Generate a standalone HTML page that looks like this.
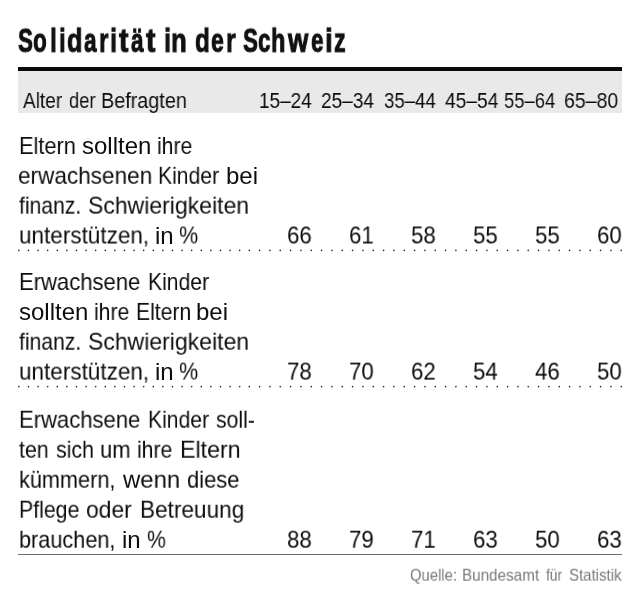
<!DOCTYPE html>
<html lang="de"><head><meta charset="utf-8"><title>Solidarität in der Schweiz</title>
<style>
html,body{margin:0;padding:0;background:#fff;}
body{width:640px;height:600px;position:relative;overflow:hidden;font-family:"Liberation Sans",sans-serif;}
.t{position:absolute;white-space:nowrap;transform-origin:0 0;display:block;will-change:transform;}
.rule{position:absolute;left:18px;width:604px;top:67.4px;height:3.7px;background:#0a0a0a;}
.band{position:absolute;left:18px;width:604px;top:71px;height:42.4px;background:#e9e9e9;}
.dots{position:absolute;left:0;}
.ln{position:absolute;left:0;top:0;width:0;height:0;margin:0;font-size:0;line-height:0;}
.solid{position:absolute;left:18px;width:604px;top:554px;height:1px;background:#6e6e6e;}
</style></head><body>
<div class="rule"></div><div class="band"></div>
<svg class="dots" style="top:248px" width="640" height="5" viewBox="0 0 640 5"><g fill="#262626"><circle cx="18.85" cy="2.40" r="0.8"/><circle cx="28.45" cy="2.40" r="0.8"/><circle cx="38.05" cy="2.40" r="0.8"/><circle cx="47.65" cy="2.40" r="0.8"/><circle cx="57.25" cy="2.40" r="0.8"/><circle cx="66.85" cy="2.40" r="0.8"/><circle cx="76.45" cy="2.40" r="0.8"/><circle cx="86.05" cy="2.40" r="0.8"/><circle cx="95.65" cy="2.40" r="0.8"/><circle cx="105.25" cy="2.40" r="0.8"/><circle cx="114.85" cy="2.40" r="0.8"/><circle cx="124.45" cy="2.40" r="0.8"/><circle cx="134.05" cy="2.40" r="0.8"/><circle cx="143.65" cy="2.40" r="0.8"/><circle cx="153.25" cy="2.40" r="0.8"/><circle cx="162.85" cy="2.40" r="0.8"/><circle cx="172.45" cy="2.40" r="0.8"/><circle cx="182.05" cy="2.40" r="0.8"/><circle cx="191.65" cy="2.40" r="0.8"/><circle cx="201.25" cy="2.40" r="0.8"/><circle cx="210.85" cy="2.40" r="0.8"/><circle cx="220.45" cy="2.40" r="0.8"/><circle cx="230.05" cy="2.40" r="0.8"/><circle cx="239.65" cy="2.40" r="0.8"/><circle cx="249.25" cy="2.40" r="0.8"/><circle cx="259.58" cy="2.40" r="0.8"/><circle cx="269.92" cy="2.40" r="0.8"/><circle cx="280.25" cy="2.40" r="0.8"/><circle cx="290.58" cy="2.40" r="0.8"/><circle cx="300.91" cy="2.40" r="0.8"/><circle cx="311.25" cy="2.40" r="0.8"/><circle cx="321.58" cy="2.40" r="0.8"/><circle cx="331.91" cy="2.40" r="0.8"/><circle cx="342.25" cy="2.40" r="0.8"/><circle cx="352.58" cy="2.40" r="0.8"/><circle cx="362.91" cy="2.40" r="0.8"/><circle cx="373.25" cy="2.40" r="0.8"/><circle cx="383.58" cy="2.40" r="0.8"/><circle cx="393.91" cy="2.40" r="0.8"/><circle cx="404.25" cy="2.40" r="0.8"/><circle cx="414.58" cy="2.40" r="0.8"/><circle cx="424.91" cy="2.40" r="0.8"/><circle cx="435.24" cy="2.40" r="0.8"/><circle cx="445.58" cy="2.40" r="0.8"/><circle cx="455.91" cy="2.40" r="0.8"/><circle cx="466.24" cy="2.40" r="0.8"/><circle cx="476.58" cy="2.40" r="0.8"/><circle cx="486.91" cy="2.40" r="0.8"/><circle cx="497.24" cy="2.40" r="0.8"/><circle cx="507.57" cy="2.40" r="0.8"/><circle cx="517.91" cy="2.40" r="0.8"/><circle cx="528.24" cy="2.40" r="0.8"/><circle cx="538.57" cy="2.40" r="0.8"/><circle cx="548.91" cy="2.40" r="0.8"/><circle cx="559.24" cy="2.40" r="0.8"/><circle cx="569.57" cy="2.40" r="0.8"/><circle cx="579.91" cy="2.40" r="0.8"/><circle cx="590.24" cy="2.40" r="0.8"/><circle cx="600.57" cy="2.40" r="0.8"/><circle cx="610.90" cy="2.40" r="0.8"/><circle cx="621.24" cy="2.40" r="0.8"/></g></svg>
<svg class="dots" style="top:384px" width="640" height="5" viewBox="0 0 640 5"><g fill="#262626"><circle cx="18.85" cy="2.65" r="0.8"/><circle cx="28.45" cy="2.65" r="0.8"/><circle cx="38.05" cy="2.65" r="0.8"/><circle cx="47.65" cy="2.65" r="0.8"/><circle cx="57.25" cy="2.65" r="0.8"/><circle cx="66.85" cy="2.65" r="0.8"/><circle cx="76.45" cy="2.65" r="0.8"/><circle cx="86.05" cy="2.65" r="0.8"/><circle cx="95.65" cy="2.65" r="0.8"/><circle cx="105.25" cy="2.65" r="0.8"/><circle cx="114.85" cy="2.65" r="0.8"/><circle cx="124.45" cy="2.65" r="0.8"/><circle cx="134.05" cy="2.65" r="0.8"/><circle cx="143.65" cy="2.65" r="0.8"/><circle cx="153.25" cy="2.65" r="0.8"/><circle cx="162.85" cy="2.65" r="0.8"/><circle cx="172.45" cy="2.65" r="0.8"/><circle cx="182.05" cy="2.65" r="0.8"/><circle cx="191.65" cy="2.65" r="0.8"/><circle cx="201.25" cy="2.65" r="0.8"/><circle cx="210.85" cy="2.65" r="0.8"/><circle cx="220.45" cy="2.65" r="0.8"/><circle cx="230.05" cy="2.65" r="0.8"/><circle cx="239.65" cy="2.65" r="0.8"/><circle cx="249.25" cy="2.65" r="0.8"/><circle cx="259.58" cy="2.65" r="0.8"/><circle cx="269.92" cy="2.65" r="0.8"/><circle cx="280.25" cy="2.65" r="0.8"/><circle cx="290.58" cy="2.65" r="0.8"/><circle cx="300.91" cy="2.65" r="0.8"/><circle cx="311.25" cy="2.65" r="0.8"/><circle cx="321.58" cy="2.65" r="0.8"/><circle cx="331.91" cy="2.65" r="0.8"/><circle cx="342.25" cy="2.65" r="0.8"/><circle cx="352.58" cy="2.65" r="0.8"/><circle cx="362.91" cy="2.65" r="0.8"/><circle cx="373.25" cy="2.65" r="0.8"/><circle cx="383.58" cy="2.65" r="0.8"/><circle cx="393.91" cy="2.65" r="0.8"/><circle cx="404.25" cy="2.65" r="0.8"/><circle cx="414.58" cy="2.65" r="0.8"/><circle cx="424.91" cy="2.65" r="0.8"/><circle cx="435.24" cy="2.65" r="0.8"/><circle cx="445.58" cy="2.65" r="0.8"/><circle cx="455.91" cy="2.65" r="0.8"/><circle cx="466.24" cy="2.65" r="0.8"/><circle cx="476.58" cy="2.65" r="0.8"/><circle cx="486.91" cy="2.65" r="0.8"/><circle cx="497.24" cy="2.65" r="0.8"/><circle cx="507.57" cy="2.65" r="0.8"/><circle cx="517.91" cy="2.65" r="0.8"/><circle cx="528.24" cy="2.65" r="0.8"/><circle cx="538.57" cy="2.65" r="0.8"/><circle cx="548.91" cy="2.65" r="0.8"/><circle cx="559.24" cy="2.65" r="0.8"/><circle cx="569.57" cy="2.65" r="0.8"/><circle cx="579.91" cy="2.65" r="0.8"/><circle cx="590.24" cy="2.65" r="0.8"/><circle cx="600.57" cy="2.65" r="0.8"/><circle cx="610.90" cy="2.65" r="0.8"/><circle cx="621.24" cy="2.65" r="0.8"/></g></svg>
<div class="solid"></div>

<div class="ln"><span class="t" style="left:18.18px;top:23px;font-size:33px;line-height:33px;font-weight:700;color:#111;-webkit-text-stroke:1px #111;transform:translateY(0.8px) scaleX(0.6800)">S</span><span class="t" style="left:33.20px;top:23px;font-size:33px;line-height:33px;font-weight:700;color:#111;-webkit-text-stroke:1px #111;transform:translateY(0.8px) scaleX(0.6800)">o</span><span class="t" style="left:50.38px;top:23px;font-size:33px;line-height:33px;font-weight:700;color:#111;-webkit-text-stroke:1px #111;transform:translateY(0.8px) scaleX(0.7500)">l</span><span class="t" style="left:58.90px;top:23px;font-size:33px;line-height:33px;font-weight:700;color:#111;-webkit-text-stroke:1px #111;transform:translateY(0.8px) scaleX(0.7333)">i</span><span class="t" style="left:66.52px;top:23px;font-size:33px;line-height:33px;font-weight:700;color:#111;-webkit-text-stroke:1px #111;transform:translateY(0.8px) scaleX(0.7611)">d</span><span class="t" style="left:83.87px;top:23px;font-size:33px;line-height:33px;font-weight:700;color:#111;-webkit-text-stroke:1px #111;transform:translateY(0.8px) scaleX(0.6800)">a</span><span class="t" style="left:99.16px;top:23px;font-size:33px;line-height:33px;font-weight:700;color:#111;-webkit-text-stroke:1px #111;transform:translateY(0.8px) scaleX(0.7292)">r</span><span class="t" style="left:110.44px;top:23px;font-size:33px;line-height:33px;font-weight:700;color:#111;-webkit-text-stroke:1px #111;transform:translateY(0.8px) scaleX(0.7750)">i</span><span class="t" style="left:119.18px;top:23px;font-size:33px;line-height:33px;font-weight:700;color:#111;-webkit-text-stroke:1px #111;transform:translateY(0.8px) scaleX(0.8542)">t</span><span class="t" style="left:131.04px;top:23px;font-size:33px;line-height:33px;font-weight:700;color:#111;-webkit-text-stroke:1px #111;transform:translateY(0.8px) scaleX(0.6800)">ä</span><span class="t" style="left:146.43px;top:23px;font-size:33px;line-height:33px;font-weight:700;color:#111;-webkit-text-stroke:1px #111;transform:translateY(0.8px) scaleX(0.8542)">t</span> <span class="t" style="left:163.59px;top:23px;font-size:33px;line-height:33px;font-weight:700;color:#111;-webkit-text-stroke:1px #111;transform:translateY(0.8px) scaleX(0.7750)">i</span><span class="t" style="left:171.33px;top:23px;font-size:33px;line-height:33px;font-weight:700;color:#111;-webkit-text-stroke:1px #111;transform:translateY(0.8px) scaleX(0.7778)">n</span> <span class="t" style="left:194.88px;top:23px;font-size:33px;line-height:33px;font-weight:700;color:#111;-webkit-text-stroke:1px #111;transform:translateY(0.8px) scaleX(0.7361)">d</span><span class="t" style="left:211.15px;top:23px;font-size:33px;line-height:33px;font-weight:700;color:#111;-webkit-text-stroke:1px #111;transform:translateY(0.8px) scaleX(0.6944)">e</span><span class="t" style="left:226.12px;top:23px;font-size:33px;line-height:33px;font-weight:700;color:#111;-webkit-text-stroke:1px #111;transform:translateY(0.8px) scaleX(0.7500)">r</span> <span class="t" style="left:243.19px;top:23px;font-size:33px;line-height:33px;font-weight:700;color:#111;-webkit-text-stroke:1px #111;transform:translateY(0.8px) scaleX(0.6800)">S</span><span class="t" style="left:257.54px;top:23px;font-size:33px;line-height:33px;font-weight:700;color:#111;-webkit-text-stroke:1px #111;transform:translateY(0.8px) scaleX(0.6800)">c</span><span class="t" style="left:271.19px;top:23px;font-size:33px;line-height:33px;font-weight:700;color:#111;-webkit-text-stroke:1px #111;transform:translateY(0.8px) scaleX(0.7083)">h</span><span class="t" style="left:288.08px;top:23px;font-size:33px;line-height:33px;font-weight:700;color:#111;-webkit-text-stroke:1px #111;transform:translateY(0.8px) scaleX(0.7893)">w</span><span class="t" style="left:310.59px;top:23px;font-size:33px;line-height:33px;font-weight:700;color:#111;-webkit-text-stroke:1px #111;transform:translateY(0.8px) scaleX(0.6800)">e</span><span class="t" style="left:324.75px;top:23px;font-size:33px;line-height:33px;font-weight:700;color:#111;-webkit-text-stroke:1px #111;transform:translateY(0.8px) scaleX(0.8333)">i</span><span class="t" style="left:333.65px;top:23px;font-size:33px;line-height:33px;font-weight:700;color:#111;-webkit-text-stroke:1px #111;transform:translateY(0.8px) scaleX(0.7031)">z</span></div>
<div class="ln"><span class="t" style="left:23.40px;top:90px;font-size:22px;line-height:22px;font-weight:400;color:#0d0d0d;transform:scaleX(0.8640)">Alter</span> <span class="t" style="left:69.20px;top:90px;font-size:22px;line-height:22px;font-weight:400;color:#0d0d0d;transform:scaleX(0.8325)">der</span> <span class="t" style="left:101.20px;top:90px;font-size:22px;line-height:22px;font-weight:400;color:#0d0d0d;transform:scaleX(0.8995)">Befragten</span></div>
<div class="ln"><span class="t" style="left:259.44px;top:90px;font-size:22px;line-height:22px;font-weight:400;color:#0d0d0d;transform:scaleX(0.8608)">15–24</span> <span class="t" style="left:321.03px;top:90px;font-size:22px;line-height:22px;font-weight:400;color:#0d0d0d;transform:scaleX(0.8650)">25–34</span> <span class="t" style="left:383.75px;top:90px;font-size:22px;line-height:22px;font-weight:400;color:#0d0d0d;transform:scaleX(0.8459)">35–44</span> <span class="t" style="left:444.70px;top:90px;font-size:22px;line-height:22px;font-weight:400;color:#0d0d0d;transform:scaleX(0.8713)">45–54</span> <span class="t" style="left:504.00px;top:90px;font-size:22px;line-height:22px;font-weight:400;color:#0d0d0d;transform:scaleX(0.8369)">55–64</span> <span class="t" style="left:563.51px;top:90px;font-size:22px;line-height:22px;font-weight:400;color:#0d0d0d;transform:scaleX(0.8859)">65–80</span></div>
<div class="ln"><span class="t" style="left:19.09px;top:134px;font-size:24px;line-height:24px;font-weight:400;color:#0d0d0d;transform:scaleX(0.9081)">Eltern</span> <span class="t" style="left:82.39px;top:134px;font-size:24px;line-height:24px;font-weight:400;color:#0d0d0d;transform:scaleX(1.0000)">sollten</span> <span class="t" style="left:156.70px;top:134px;font-size:24px;line-height:24px;font-weight:400;color:#0d0d0d;transform:scaleX(0.8800)">ihre</span></div>
<div class="ln"><span class="t" style="left:17.86px;top:163px;font-size:24px;line-height:24px;font-weight:400;color:#0d0d0d;transform:translateY(0.8px) scaleX(0.9401)">erwachsenen</span> <span class="t" style="left:157.63px;top:163px;font-size:24px;line-height:24px;font-weight:400;color:#0d0d0d;transform:translateY(0.8px) scaleX(0.8800)">Kinder</span> <span class="t" style="left:226.15px;top:163px;font-size:24px;line-height:24px;font-weight:400;color:#0d0d0d;transform:translateY(0.8px) scaleX(1.0000)">bei</span></div>
<div class="ln"><span class="t" style="left:18.62px;top:193px;font-size:24px;line-height:24px;font-weight:400;color:#0d0d0d;transform:translateY(0.65px) scaleX(0.8800)">finanz.</span> <span class="t" style="left:88.24px;top:193px;font-size:24px;line-height:24px;font-weight:400;color:#0d0d0d;transform:translateY(0.65px) scaleX(0.9582)">Schwierigkeiten</span></div>
<div class="ln"><span class="t" style="left:18.66px;top:223px;font-size:24px;line-height:24px;font-weight:400;color:#0d0d0d;transform:translateY(0.5px) scaleX(0.9377)">unterstützen,</span> <span class="t" style="left:155.23px;top:223px;font-size:24px;line-height:24px;font-weight:400;color:#0d0d0d;transform:translateY(0.5px) scaleX(1.0000)">in</span> <span class="t" style="left:179.20px;top:223px;font-size:24px;line-height:24px;font-weight:400;color:#0d0d0d;transform:translateY(0.5px) scaleX(0.8952)">%</span></div>
<div class="ln"><span class="t" style="left:19.08px;top:270px;font-size:24px;line-height:24px;font-weight:400;color:#0d0d0d;transform:scaleX(0.9180)">Erwachsene</span> <span class="t" style="left:147.83px;top:270px;font-size:24px;line-height:24px;font-weight:400;color:#0d0d0d;transform:scaleX(0.8800)">Kinder</span></div>
<div class="ln"><span class="t" style="left:18.99px;top:299px;font-size:24px;line-height:24px;font-weight:400;color:#0d0d0d;transform:translateY(0.9px) scaleX(1.0000)">sollten</span> <span class="t" style="left:93.70px;top:299px;font-size:24px;line-height:24px;font-weight:400;color:#0d0d0d;transform:translateY(0.9px) scaleX(0.8800)">ihre</span> <span class="t" style="left:135.92px;top:299px;font-size:24px;line-height:24px;font-weight:400;color:#0d0d0d;transform:translateY(0.9px) scaleX(0.8816)">Eltern</span> <span class="t" style="left:196.15px;top:299px;font-size:24px;line-height:24px;font-weight:400;color:#0d0d0d;transform:translateY(0.9px) scaleX(1.0000)">bei</span></div>
<div class="ln"><span class="t" style="left:18.62px;top:329px;font-size:24px;line-height:24px;font-weight:400;color:#0d0d0d;transform:translateY(0.7px) scaleX(0.8800)">finanz.</span> <span class="t" style="left:88.24px;top:329px;font-size:24px;line-height:24px;font-weight:400;color:#0d0d0d;transform:translateY(0.7px) scaleX(0.9582)">Schwierigkeiten</span></div>
<div class="ln"><span class="t" style="left:18.66px;top:359px;font-size:24px;line-height:24px;font-weight:400;color:#0d0d0d;transform:translateY(0.6px) scaleX(0.9377)">unterstützen,</span> <span class="t" style="left:155.23px;top:359px;font-size:24px;line-height:24px;font-weight:400;color:#0d0d0d;transform:translateY(0.6px) scaleX(1.0000)">in</span> <span class="t" style="left:179.20px;top:359px;font-size:24px;line-height:24px;font-weight:400;color:#0d0d0d;transform:translateY(0.6px) scaleX(0.8952)">%</span></div>
<div class="ln"><span class="t" style="left:19.08px;top:407px;font-size:24px;line-height:24px;font-weight:400;color:#0d0d0d;transform:translateY(0.7px) scaleX(0.9180)">Erwachsene</span> <span class="t" style="left:147.83px;top:407px;font-size:24px;line-height:24px;font-weight:400;color:#0d0d0d;transform:translateY(0.7px) scaleX(0.8800)">Kinder</span> <span class="t" style="left:216.00px;top:407px;font-size:24px;line-height:24px;font-weight:400;color:#0d0d0d;transform:translateY(0.7px) scaleX(0.8835)">soll-</span></div>
<div class="ln"><span class="t" style="left:18.80px;top:437px;font-size:24px;line-height:24px;font-weight:400;color:#0d0d0d;transform:translateY(0.7px) scaleX(0.8871)">ten</span> <span class="t" style="left:56.00px;top:437px;font-size:24px;line-height:24px;font-weight:400;color:#0d0d0d;transform:translateY(0.7px) scaleX(0.8904)">sich</span> <span class="t" style="left:100.28px;top:437px;font-size:24px;line-height:24px;font-weight:400;color:#0d0d0d;transform:translateY(0.7px) scaleX(0.9187)">um</span> <span class="t" style="left:136.70px;top:437px;font-size:24px;line-height:24px;font-weight:400;color:#0d0d0d;transform:translateY(0.7px) scaleX(0.8800)">ihre</span> <span class="t" style="left:179.83px;top:437px;font-size:24px;line-height:24px;font-weight:400;color:#0d0d0d;transform:translateY(0.7px) scaleX(0.9677)">Eltern</span></div>
<div class="ln"><span class="t" style="left:19.10px;top:467px;font-size:24px;line-height:24px;font-weight:400;color:#0d0d0d;transform:translateY(0.7px) scaleX(0.9037)">kümmern,</span> <span class="t" style="left:123.00px;top:467px;font-size:24px;line-height:24px;font-weight:400;color:#0d0d0d;transform:translateY(0.7px) scaleX(0.9960)">wenn</span> <span class="t" style="left:187.09px;top:467px;font-size:24px;line-height:24px;font-weight:400;color:#0d0d0d;transform:translateY(0.7px) scaleX(0.9138)">diese</span></div>
<div class="ln"><span class="t" style="left:19.11px;top:497px;font-size:24px;line-height:24px;font-weight:400;color:#0d0d0d;transform:translateY(0.7px) scaleX(0.8875)">Pflege</span> <span class="t" style="left:86.25px;top:497px;font-size:24px;line-height:24px;font-weight:400;color:#0d0d0d;transform:translateY(0.7px) scaleX(0.9523)">oder</span> <span class="t" style="left:139.86px;top:497px;font-size:24px;line-height:24px;font-weight:400;color:#0d0d0d;transform:translateY(0.7px) scaleX(0.9409)">Betreuung</span></div>
<div class="ln"><span class="t" style="left:19.10px;top:527px;font-size:24px;line-height:24px;font-weight:400;color:#0d0d0d;transform:translateY(0.7px) scaleX(0.9032)">brauchen,</span> <span class="t" style="left:121.83px;top:527px;font-size:24px;line-height:24px;font-weight:400;color:#0d0d0d;transform:translateY(0.7px) scaleX(1.0000)">in</span> <span class="t" style="left:146.96px;top:527px;font-size:24px;line-height:24px;font-weight:400;color:#0d0d0d;transform:translateY(0.7px) scaleX(0.8800)">%</span></div>
<div class="ln"><span class="t" style="left:287.35px;top:223px;font-size:24px;line-height:24px;font-weight:400;color:#0d0d0d;transform:translateY(0.5px) scaleX(0.9310)">66</span> <span class="t" style="left:349.35px;top:223px;font-size:24px;line-height:24px;font-weight:400;color:#0d0d0d;transform:translateY(0.5px) scaleX(0.9310)">61</span> <span class="t" style="left:411.35px;top:223px;font-size:24px;line-height:24px;font-weight:400;color:#0d0d0d;transform:translateY(0.5px) scaleX(0.9310)">58</span> <span class="t" style="left:473.35px;top:223px;font-size:24px;line-height:24px;font-weight:400;color:#0d0d0d;transform:translateY(0.5px) scaleX(0.9310)">55</span> <span class="t" style="left:535.35px;top:223px;font-size:24px;line-height:24px;font-weight:400;color:#0d0d0d;transform:translateY(0.5px) scaleX(0.9310)">55</span> <span class="t" style="left:597.35px;top:223px;font-size:24px;line-height:24px;font-weight:400;color:#0d0d0d;transform:translateY(0.5px) scaleX(0.9310)">60</span></div>
<div class="ln"><span class="t" style="left:287.35px;top:359px;font-size:24px;line-height:24px;font-weight:400;color:#0d0d0d;transform:translateY(0.6px) scaleX(0.9310)">78</span> <span class="t" style="left:349.35px;top:359px;font-size:24px;line-height:24px;font-weight:400;color:#0d0d0d;transform:translateY(0.6px) scaleX(0.9310)">70</span> <span class="t" style="left:411.35px;top:359px;font-size:24px;line-height:24px;font-weight:400;color:#0d0d0d;transform:translateY(0.6px) scaleX(0.9310)">62</span> <span class="t" style="left:473.35px;top:359px;font-size:24px;line-height:24px;font-weight:400;color:#0d0d0d;transform:translateY(0.6px) scaleX(0.9310)">54</span> <span class="t" style="left:535.35px;top:359px;font-size:24px;line-height:24px;font-weight:400;color:#0d0d0d;transform:translateY(0.6px) scaleX(0.9310)">46</span> <span class="t" style="left:597.35px;top:359px;font-size:24px;line-height:24px;font-weight:400;color:#0d0d0d;transform:translateY(0.6px) scaleX(0.9310)">50</span></div>
<div class="ln"><span class="t" style="left:287.35px;top:527px;font-size:24px;line-height:24px;font-weight:400;color:#0d0d0d;transform:translateY(0.7px) scaleX(0.9310)">88</span> <span class="t" style="left:349.35px;top:527px;font-size:24px;line-height:24px;font-weight:400;color:#0d0d0d;transform:translateY(0.7px) scaleX(0.9310)">79</span> <span class="t" style="left:411.35px;top:527px;font-size:24px;line-height:24px;font-weight:400;color:#0d0d0d;transform:translateY(0.7px) scaleX(0.9310)">71</span> <span class="t" style="left:473.35px;top:527px;font-size:24px;line-height:24px;font-weight:400;color:#0d0d0d;transform:translateY(0.7px) scaleX(0.9310)">63</span> <span class="t" style="left:535.35px;top:527px;font-size:24px;line-height:24px;font-weight:400;color:#0d0d0d;transform:translateY(0.7px) scaleX(0.9310)">50</span> <span class="t" style="left:597.35px;top:527px;font-size:24px;line-height:24px;font-weight:400;color:#0d0d0d;transform:translateY(0.7px) scaleX(0.9310)">63</span></div>
<div class="ln"><span class="t" style="left:409.80px;top:566px;font-size:16.5px;line-height:16.5px;font-weight:400;color:#7a7a7a;transform:translateY(0.7px) scaleX(0.8985)">Quelle:</span> <span class="t" style="left:462.08px;top:566px;font-size:16.5px;line-height:16.5px;font-weight:400;color:#7a7a7a;transform:translateY(0.7px) scaleX(0.9230)">Bundesamt</span> <span class="t" style="left:545.50px;top:566px;font-size:16.5px;line-height:16.5px;font-weight:400;color:#7a7a7a;transform:translateY(0.7px) scaleX(0.8350)">für</span> <span class="t" style="left:568.75px;top:566px;font-size:16.5px;line-height:16.5px;font-weight:400;color:#7a7a7a;transform:translateY(0.7px) scaleX(0.9100)">Statistik</span></div>
</body></html>
